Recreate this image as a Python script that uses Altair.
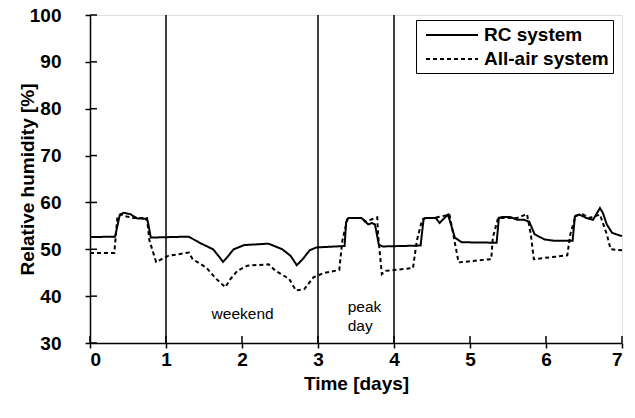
import altair as alt
import pandas as pd

# ---- data ----
series_names = ["RC system", "All-air system"]

rc_day = [0.00, 0.33, 0.39, 0.44, 0.53, 0.62, 0.73, 0.76, 0.80, 1.30, 1.44, 1.62, 1.71, 1.75,
          1.80, 1.89, 2.03, 2.35, 2.53, 2.64, 2.72, 2.80, 2.89, 2.98, 3.35, 3.37, 3.40, 3.57,
          3.62, 3.66, 3.71, 3.75, 3.80, 3.85, 4.35, 4.39, 4.43, 4.55, 4.60, 4.64, 4.71, 4.75,
          4.80, 4.89, 5.35, 5.38, 5.43, 5.53, 5.62, 5.71, 5.78, 5.85, 5.98, 6.12, 6.35, 6.38,
          6.44, 6.53, 6.62, 6.67, 6.71, 6.75, 6.80, 6.87, 7.00]
rc_rh = [52.6, 52.7, 57.2, 57.8, 57.5, 56.6, 56.5, 56.0, 52.5, 52.7, 51.4, 50.0, 48.2, 47.3,
         48.2, 50.0, 50.9, 51.2, 50.0, 48.6, 46.6, 47.9, 49.8, 50.4, 50.7, 55.8, 56.7, 56.7,
         56.0, 55.3, 55.6, 55.3, 51.0, 50.6, 50.8, 56.5, 56.7, 56.7, 55.6, 56.3, 57.4, 55.3,
         52.5, 51.5, 51.4, 56.7, 56.9, 56.9, 56.3, 56.3, 55.9, 53.2, 52.1, 51.8, 51.8, 57.0,
         57.4, 56.7, 56.3, 57.7, 58.8, 57.7, 55.3, 53.5, 52.8]

air_day = [0.00, 0.32, 0.36, 0.40, 0.48, 0.57, 0.75, 0.78, 0.87, 1.03, 1.30, 1.35, 1.53, 1.66,
           1.78, 1.85, 1.94, 2.07, 2.35, 2.44, 2.62, 2.71, 2.82, 2.94, 3.07, 3.28, 3.32, 3.39,
           3.44, 3.57, 3.62, 3.78, 3.79, 3.84, 3.89, 4.25, 4.30, 4.37, 4.41, 4.53, 4.62, 4.73,
           4.78, 4.85, 5.28, 5.30, 5.37, 5.44, 5.62, 5.75, 5.80, 5.84, 6.28, 6.32, 6.39, 6.48,
           6.57, 6.71, 6.80, 6.85, 7.00]
air_rh = [49.2, 49.2, 56.8, 57.5, 57.0, 56.7, 56.7, 52.0, 47.3, 48.6, 49.3, 47.9, 46.1, 43.7,
          41.9, 43.7, 45.4, 46.5, 46.8, 45.4, 43.7, 41.2, 41.5, 44.0, 44.9, 45.6, 51.8, 56.7,
          56.7, 56.7, 55.9, 56.8, 53.2, 44.7, 45.4, 46.0, 51.8, 56.3, 56.7, 56.7, 57.0, 57.4,
          53.2, 47.2, 47.9, 52.5, 56.7, 56.7, 56.7, 57.5, 53.2, 47.9, 48.7, 53.2, 57.2, 57.5,
          56.7, 57.4, 53.2, 50.0, 49.8]

x_ticks = [0, 1, 2, 3, 4, 5, 6, 7]
y_ticks = [30, 40, 50, 60, 70, 80, 90, 100]
divider_days = [1, 3, 4]

note_text = ["weekend", "peak", "day"]
note_day = [1.60, 3.39, 3.39]
note_rh = [36.2, 37.7, 33.6]

# ---- tables ----
lines_df = pd.concat([
    pd.DataFrame({"day": rc_day, "rh": rc_rh, "series": series_names[0], "i": range(len(rc_day))}),
    pd.DataFrame({"day": air_day, "rh": air_rh, "series": series_names[1], "i": range(len(air_day))}),
], ignore_index=True)
div_df = pd.DataFrame({"day": divider_days})
note_df = pd.DataFrame({"text": note_text, "day": note_day, "rh": note_rh})
xt_df = pd.DataFrame({"day": x_ticks})
yt_df = pd.DataFrame({"rh": y_ticks})

FONT = "Liberation Sans"
W, H = 532, 328

xs = alt.Scale(domain=[0, 7], nice=False, zero=False)
ys = alt.Scale(domain=[30, 100], nice=False, zero=False)

x_axis = alt.Axis(values=x_ticks, title="Time [days]", grid=False, format="d",
                  labelFont=FONT, labelFontSize=19, labelFontWeight="bold", labelColor="black",
                  titleFont=FONT, titleFontSize=19, titleFontWeight="bold", titleColor="black",
                  tickColor="black", tickWidth=1.5, tickSize=5, domainColor="black",
                  domainWidth=1.5, labelPadding=2, titlePadding=5)
y_axis = alt.Axis(values=y_ticks, title="Relative humidity [%]", grid=False,
                  labelFont=FONT, labelFontSize=19, labelFontWeight="bold", labelColor="black",
                  titleFont=FONT, titleFontSize=19, titleFontWeight="bold", titleColor="black",
                  tickColor="black", tickWidth=1.5, tickSize=5, domainColor="black",
                  domainWidth=1.5, labelPadding=24, titlePadding=-8)

# legend symbol: a long horizontal line drawn from a small symbol size, so rows stay compact
LEGEND_LINE = "M-0.5,0H4.7"

lines = alt.Chart(lines_df).mark_line(color="black", strokeWidth=2).encode(
    x=alt.X("day:Q", scale=xs, axis=x_axis),
    y=alt.Y("rh:Q", scale=ys, axis=y_axis),
    strokeDash=alt.StrokeDash(
        "series:N",
        scale=alt.Scale(domain=series_names, range=[[1, 0], [4, 3]]),
        legend=alt.Legend(title=None, orient="none", legendX=326, legendY=5,
                          strokeColor="black", fillColor="white", padding=4,
                          labelFont=FONT, labelFontSize=19, labelFontWeight="bold",
                          labelColor="black", labelLimit=300, labelOffset=42,
                          symbolType=LEGEND_LINE, symbolSize=400, symbolStrokeWidth=2,
                          symbolStrokeColor="black", symbolFillColor="transparent",
                          rowPadding=3),
    ),
    order="i:Q",
)

dividers = alt.Chart(div_df).mark_rule(color="black", strokeWidth=1.5).encode(
    x=alt.X("day:Q", scale=xs)
)

notes = alt.Chart(note_df).mark_text(align="left", baseline="middle", font=FONT,
                                     fontSize=15.5, color="black").encode(
    x=alt.X("day:Q", scale=xs), y=alt.Y("rh:Q", scale=ys), text="text:N"
)

# inward halves of the tick marks (the outward halves are the axis ticks)
x_inner = alt.Chart(xt_df).mark_rule(color="black", strokeWidth=1.5).encode(
    x=alt.X("day:Q", scale=xs), y=alt.value(H - 7), y2=alt.value(H)
)
y_inner = alt.Chart(yt_df).mark_rule(color="black", strokeWidth=1.5).encode(
    y=alt.Y("rh:Q", scale=ys), x=alt.value(0), x2=alt.value(7)
)

chart = alt.layer(dividers, x_inner, y_inner, lines, notes).properties(
    width=W, height=H,
    autosize=alt.AutoSizeParams(type="none"),
    padding={"left": 90, "top": 15, "right": 13, "bottom": 75},
).configure_view(stroke="black", strokeWidth=1.5).configure(background="white")

chart.save("out.html", embed_options={"renderer": "svg", "actions": False})
